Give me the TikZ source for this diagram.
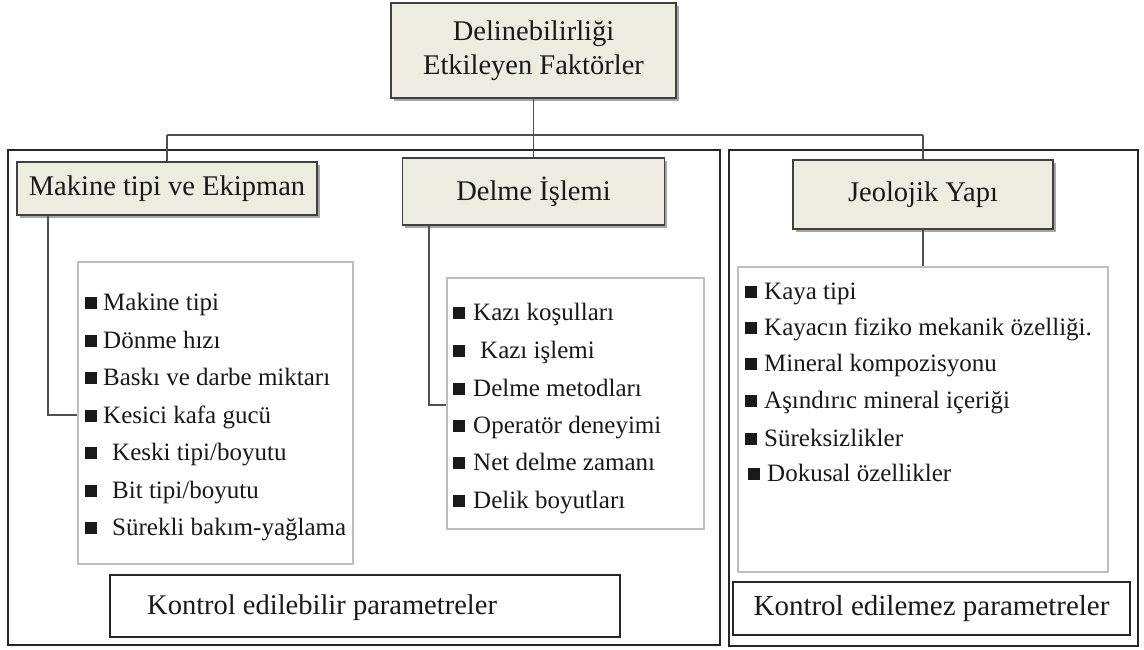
\documentclass[tikz,border=0pt]{standalone}
\usepackage{fontspec}
\setmainfont{Liberation Serif}
\usetikzlibrary{shadows}
\definecolor{tanbg}{RGB}{238,236,225}
\definecolor{boxline}{RGB}{64,64,64}
\definecolor{connline}{RGB}{80,80,80}
\definecolor{listline}{RGB}{190,190,190}
\definecolor{frameline}{RGB}{38,38,38}
\definecolor{txt}{RGB}{25,25,25}
\newcommand\mysq{\rule[1pt]{12pt}{12pt}}
\tikzset{
  titlebox/.style={draw=boxline, line width=1.5pt, fill=tanbg, inner sep=0pt,
    drop shadow={shadow xshift=2.5pt, shadow yshift=-2.5pt, opacity=0.35, fill=black},
    font=\fontsize{28.5}{34}\selectfont, text=txt, align=center},
  framebox/.style={draw=frameline, line width=1.3pt, inner sep=0pt},
  listbox/.style={draw=listline, line width=1.3pt, inner sep=0pt},
  kbox/.style={draw=frameline, line width=1.6pt, inner sep=0pt},
  conn/.style={draw=connline, line width=1.3pt},
  item/.style={anchor=base west, inner sep=0pt, text=txt, font=\fontsize{25}{30}\selectfont},
}
\begin{document}
\begin{tikzpicture}[x=1pt,y=-1pt]
\useasboundingbox (0,0) rectangle (1144,649);
\fill[white] (0,0) rectangle (1144,649);

% outer frames
\node[framebox, minimum width=712pt, minimum height=495pt] (lf) at (364,397.5) {};
\node[framebox, minimum width=409pt, minimum height=496pt] (rf) at (933.5,398) {};

% list boxes
\node[listbox, minimum width=275pt, minimum height=302pt] (maklist) at (215.5,413) {};
\node[listbox, minimum width=257pt, minimum height=251pt] (dellist) at (575.5,403.5) {};
\node[listbox, minimum width=370pt, minimum height=305pt] (jeolist) at (923,419.5) {};

% control boxes
\node[kbox, minimum width=510pt, minimum height=62pt] (kleft) at (365,606) {};
\node[anchor=base west, inner sep=0pt, text=txt, font=\fontsize{28.5}{34}\selectfont] (klefttext) at (147,614) {Kontrol edilebilir parametreler};
\node[kbox, minimum width=397pt, minimum height=53pt, text=txt, font=\fontsize{29}{34}\selectfont] (kright) at (931.5,608.5) {Kontrol edilemez parametreler};

% title boxes
\node[titlebox, minimum width=285pt, minimum height=95pt] (top) at (533.5,50.5) {Delinebilirliği\\Etkileyen Faktörler};
\node[titlebox, minimum width=300pt, minimum height=53pt] (mak) at (167,188.5) {Makine tipi ve Ekipman};
\node[titlebox, minimum width=262pt, minimum height=67pt] (del) at (533.5,191.5) {Delme İşlemi};
\node[titlebox, minimum width=260pt, minimum height=69pt] (jeo) at (923,194.5) {Jeolojik Yapı};

% connectors
\coordinate (hl) at (167,135);
\coordinate (hm) at (533.5,135);
\coordinate (hr) at (923,135);
\coordinate (mk1) at (48,415);
\coordinate (dl1) at (429,405);
\draw[conn] (top.south) -- (hm);
\draw[conn] (hl) -- (hr);
\draw[conn] (hl) -- (mak.north);
\draw[conn] (hm) -- (del.north);
\draw[conn] (hr) -- (jeo.north);
\draw[conn] (jeo.south) -- (jeolist.north);
\draw[conn] (mak.south -| mk1) -- (mk1) -- (mk1 -| maklist.west);
\draw[conn] (del.south -| dl1) -- (dl1) -- (dl1 -| dellist.west);

% Makine items
\node[item] (m1) at (85,310) {\mysq\hspace{6pt}Makine tipi};
\node[item] (m2) at (85,348) {\mysq\hspace{6pt}Dönme hızı};
\node[item] (m3) at (85,385) {\mysq\hspace{6pt}Baskı ve darbe miktarı};
\node[item] (m4) at (85,423) {\mysq\hspace{6pt}Kesici kafa gucü};
\node[item] (m5) at (85,460) {\mysq\hspace{15pt}Keski tipi/boyutu};
\node[item] (m6) at (85,498) {\mysq\hspace{15pt}Bit tipi/boyutu};
\node[item] (m7) at (85,535) {\mysq\hspace{15pt}Sürekli bakım-yağlama};

% Delme items
\node[item] (d1) at (453,320) {\mysq\hspace{8pt}Kazı koşulları};
\node[item] (d2) at (453,358) {\mysq\hspace{15pt}Kazı işlemi};
\node[item] (d3) at (453,396) {\mysq\hspace{8pt}Delme metodları};
\node[item] (d4) at (453,433) {\mysq\hspace{8pt}Operatör deneyimi};
\node[item] (d5) at (453,470) {\mysq\hspace{8pt}Net delme zamanı};
\node[item] (d6) at (453,508) {\mysq\hspace{8pt}Delik boyutları};

% Jeolojik items
\node[item] (j1) at (745,299) {\mysq\hspace{7pt}Kaya tipi};
\node[item] (j2) at (745,335) {\mysq\hspace{7pt}Kayacın fiziko mekanik özelliği.};
\node[item] (j3) at (745,371) {\mysq\hspace{7pt}Mineral kompozisyonu};
\node[item] (j4) at (745,408) {\mysq\hspace{7pt}Aşındırıc mineral içeriği};
\node[item] (j5) at (745,446) {\mysq\hspace{7pt}Süreksizlikler};
\node[item] (j6) at (748,481) {\mysq\hspace{7pt}Dokusal özellikler};
\end{tikzpicture}
\end{document}
